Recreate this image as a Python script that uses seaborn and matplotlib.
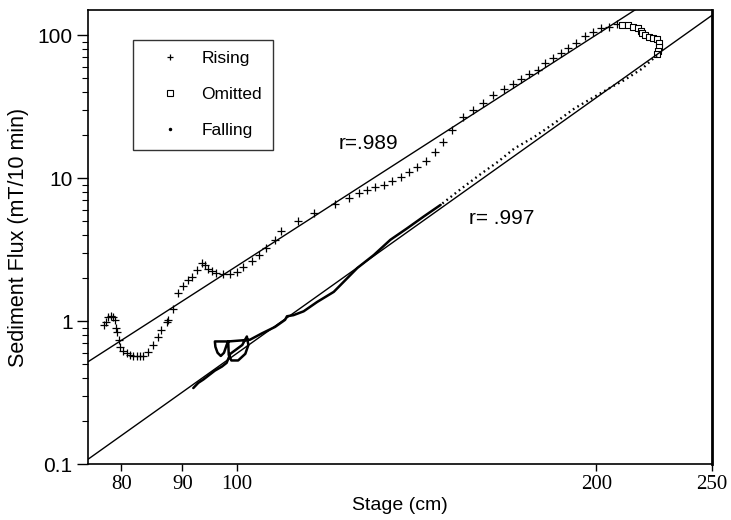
import numpy as np
import pandas as pd
import matplotlib
matplotlib.use("Agg")
import matplotlib.pyplot as plt
from matplotlib.lines import Line2D
from matplotlib.ticker import FixedLocator, NullFormatter, LogLocator, NullLocator
import seaborn as sns

sns.set_theme(style="white")
plt.rcParams['font.family'] = ['Liberation Sans', 'DejaVu Sans']
plt.rcParams['text.color'] = 'black'
plt.rcParams['axes.labelcolor'] = 'black'
plt.rcParams['xtick.color'] = 'black'
plt.rcParams['ytick.color'] = 'black'

# ---------------- data ----------------
rising_stage = [77.4, 77.7, 78.0, 78.4, 78.7, 79.0, 79.2, 79.3, 79.6, 79.8,
                80.3, 80.8, 81.3, 81.8, 82.4, 82.9, 83.4, 84.2, 85.0, 85.9,
                86.4, 87.3, 87.6, 88.4, 89.3, 90.1, 91.0, 91.6, 92.5, 93.4,
                94.0, 94.6, 95.2, 96.1, 97.4, 98.7, 99.9, 101.2, 102.9, 104.3,
                105.8, 107.5, 108.9, 112.4, 116.1, 120.9, 124.2, 126.5, 128.6, 130.6,
                132.7, 134.9, 137.1, 139.3, 141.6, 143.9, 146.5, 148.9, 151.5, 154.5,
                157.5, 160.6, 164.0, 167.5, 170.2, 172.9, 175.7, 178.6, 181.1, 184.0,
                186.7, 189.4, 192.3, 195.5, 198.8, 201.9, 204.9, 208.0]
rising_flux = [0.94, 0.99, 1.06, 1.09, 1.06, 1.01, 0.89, 0.84, 0.74, 0.66,
               0.62, 0.60, 0.58, 0.57, 0.57, 0.57, 0.57, 0.61, 0.68, 0.77,
               0.87, 0.99, 1.01, 1.21, 1.58, 1.75, 1.93, 2.04, 2.27, 2.53,
               2.48, 2.32, 2.23, 2.17, 2.15, 2.15, 2.20, 2.37, 2.64, 2.90,
               3.22, 3.70, 4.30, 5.00, 5.67, 6.55, 7.30, 7.90, 8.30, 8.60,
               8.90, 9.60, 10.2, 11.1, 12.0, 13.2, 15.3, 17.9, 21.7, 26.8,
               29.9, 33.6, 38.1, 41.7, 45.9, 49.2, 53.8, 57.5, 63.4, 68.7,
               74.5, 80.7, 87.5, 98.4, 105.5, 111.4, 114.4, 119.4]

omitted_stage = [210.3, 212.5, 214.8, 216.6, 217.8, 218.6, 219.8, 221.4, 223.2, 225.0,
                 225.5, 225.5, 225.2, 224.8]
omitted_flux = [117.5, 117.0, 114.4, 111.4, 107.4, 102.8, 100.0, 97.4, 96.3, 93.3,
                87.5, 82.9, 77.7, 73.6]

# falling limb, in time order (upper sparse part, then dense lower part)
falling_stage = [224.8, 218.6, 211.0, 204.9, 198.2, 191.7, 184.3, 177.4, 170.7, 165.4,
                 160.3, 154.3, 148.1, 143.4, 138.8, 134.4, 130.2, 126.1, 120.5, 116.7,
                 113.7, 111.5, 110.1, 109.7, 107.6, 104.9, 102.5, 98.3, 95.8, 95.9,
                 96.3, 96.9, 97.5, 98.0, 98.3, 98.4, 98.9, 100.2, 101.6, 102.2,
                 101.9, 101.0, 99.5, 98.7, 98.0, 97.1, 95.8, 93.7, 92.8, 91.9]
falling_flux = [72.4, 58.5, 48.4, 42.4, 36.1, 30.7, 24.1, 19.4, 16.1, 13.0,
                10.8, 8.5, 6.5, 5.4, 4.45, 3.7, 2.9, 2.35, 1.6, 1.36,
                1.17, 1.10, 1.08, 1.02, 0.91, 0.82, 0.74, 0.72, 0.72, 0.66,
                0.60, 0.57, 0.60, 0.68, 0.72, 0.58, 0.53, 0.53, 0.59, 0.68,
                0.78, 0.68, 0.62, 0.59, 0.51, 0.48, 0.45, 0.39, 0.37, 0.34]
falling_dense_from = 12   # index where the plotted dots merge into a solid trace

# regression lines: log10(flux) = a + b*log10(stage)
fit_rising = (-0.285 - 5.37 * np.log10(75.0), 5.37)
fit_falling = (-0.967 - 5.94 * np.log10(75.0), 5.94)
fit_labels = ["r=.989", "r= .997"]

x_ticks = [80, 90, 100, 200, 250]
y_ticks = [0.1, 1, 10, 100]
y_ticklabels = ["0.1", "1", "10", "100"]

# ---------------- figure ----------------
fig = plt.figure(figsize=(7.31, 5.2), dpi=100)
ax = fig.add_axes([88/731, 1-464/520, (712-88)/731, (464-10)/520])
ax.set_xscale("log")
ax.set_yscale("log")
ax.set_xlim(75, 250)
ax.set_ylim(0.1, 150)

rising = pd.DataFrame({"stage": rising_stage, "flux": rising_flux})
omitted = pd.DataFrame({"stage": omitted_stage, "flux": omitted_flux})
falling = pd.DataFrame({"stage": falling_stage, "flux": falling_flux})

# fit lines
fx = np.array([75.0, 250.0])
for a, b in (fit_rising, fit_falling):
    fy = 10 ** (a + b * np.log10(fx))
    sns.lineplot(x=fx, y=fy, ax=ax, color="black", lw=1.0, sort=False, estimator=None)

# falling limb
up = falling.iloc[:falling_dense_from + 1]
lo = falling.iloc[falling_dense_from:]
sns.lineplot(data=up, x="stage", y="flux", ax=ax, sort=False, estimator=None,
             color="black", lw=1.7, linestyle=(0, (0.7, 1.5)))
sns.lineplot(data=lo, x="stage", y="flux", ax=ax, sort=False, estimator=None,
             color="black", lw=1.8)

sns.scatterplot(data=rising, x="stage", y="flux", ax=ax, marker="+", s=30,
                color="black", linewidth=0.9)
sns.scatterplot(data=omitted, x="stage", y="flux", ax=ax, marker="s", s=22,
                facecolor="white", edgecolor="black", linewidth=0.8)

ax.text(121.6, 17.6, fit_labels[0], fontsize=15, ha="left", va="center")
ax.text(156.4, 5.25, fit_labels[1], fontsize=15, ha="left", va="center")

# axes styling
for sp in ax.spines.values():
    sp.set_color("black")
    sp.set_linewidth(1.2)
ax.spines["right"].set_linewidth(2.0)

ax.xaxis.set_major_locator(FixedLocator(x_ticks))
ax.xaxis.set_minor_locator(NullLocator())
ax.set_xticklabels([str(t) for t in x_ticks], fontfamily="Liberation Serif", fontsize=15)
ax.yaxis.set_major_locator(FixedLocator(y_ticks))
ax.yaxis.set_minor_locator(LogLocator(base=10, subs=np.arange(2, 10)))
ax.yaxis.set_minor_formatter(NullFormatter())
ax.set_yticklabels(y_ticklabels, fontsize=15)
ax.tick_params(axis="y", which="major", direction="out", length=8, width=1, left=True, color="black", pad=3)
ax.tick_params(axis="y", which="minor", direction="out", length=4, width=0.8, left=True, color="black")
ax.tick_params(axis="x", which="major", direction="out", length=5, width=1, bottom=True, color="black", pad=3)

ax.set_xlabel("Stage (cm)", fontsize=14, labelpad=2)
ax.set_ylabel("Sediment Flux (mT/10 min)", fontsize=15.5, labelpad=6)

handles = [Line2D([], [], ls="none", marker="+", ms=5, mew=0.9, color="black"),
           Line2D([], [], ls="none", marker="s", ms=4.5, mew=0.8, mfc="white", mec="black"),
           Line2D([], [], ls="none", marker=".", ms=3, color="black")]
leg = ax.legend(handles, ["Rising", "Omitted", "Falling"], loc="upper left",
                bbox_to_anchor=((133-88)/624, 1-(40-10)/454), borderaxespad=0,
                fontsize=12.5, frameon=True, fancybox=False, shadow=False,
                labelspacing=1.2, handletextpad=0.3, borderpad=0.65, handlelength=3.0)
leg.get_frame().set_edgecolor("black")
leg.get_frame().set_linewidth(1.0)

fig.savefig("out.png", dpi=100)
